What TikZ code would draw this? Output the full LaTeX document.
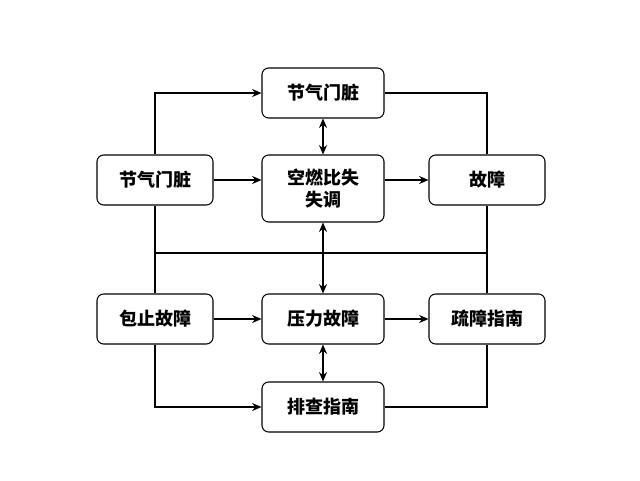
\documentclass[tikz,border=0pt]{standalone}
\usepackage{fontspec}
\setmainfont{Noto Sans CJK SC}
\usetikzlibrary{arrows.meta}
\begin{document}
\begin{tikzpicture}[x=0.75pt,y=-0.75pt,
  box/.style={draw,thick,rounded corners=5pt,minimum width=116*0.75pt,minimum height=50*0.75pt,align=center,font=\bfseries\fontsize{13.5}{16.5}\selectfont,fill=white},
  wide/.style={box,minimum width=122*0.75pt},
  ln/.style={draw,thick},
  ar/.style={ln,-{Stealth[length=7pt,width=6pt]}},
  dar/.style={ln,{Stealth[length=7pt,width=6pt]}-{Stealth[length=7pt,width=6pt]}}]
\useasboundingbox (0,0) rectangle (640,480);
\node[wide] (top) at (323,93) {节气门脏};
\node[box] (l1) at (155,180) {节气门脏};
\node[wide,minimum height=67*0.75pt] (c1) at (323,188.5) {空燃比失\\失调};
\node[box] (r1) at (487,180) {故障};
\node[box] (l2) at (155,319) {包止故障};
\node[wide] (c2) at (323,319) {压力故障};
\node[box] (r2) at (487,319) {疏障指南};
\node[wide] (bot) at (323,407) {排查指南};
\coordinate (hl) at (155,253);
\coordinate (hr) at (487,253);
\draw[ln] (hl) -- (hr);
\draw[ar] (l1.north) |- (top.west);
\draw[ln] (top.east) -| (r1.north);
\draw[ln] (l1.south) -- (l2.north);
\draw[ln] (r1.south) -- (r2.north);
\draw[ar] (l2.south) |- (bot.west);
\draw[ln] (bot.east) -| (r2.south);
\draw[dar] (top.south) -- (c1.north);
\draw[dar] (c1.south) -- (c2.north);
\draw[dar] (c2.south) -- (bot.north);
\draw[ar] (l1.east) -- (c1.west |- l1.east);
\draw[ar] (c1.east |- r1.west) -- (r1.west);
\draw[ar] (l2.east) -- (c2.west);
\draw[ar] (c2.east) -- (r2.west);
\end{tikzpicture}
\end{document}
